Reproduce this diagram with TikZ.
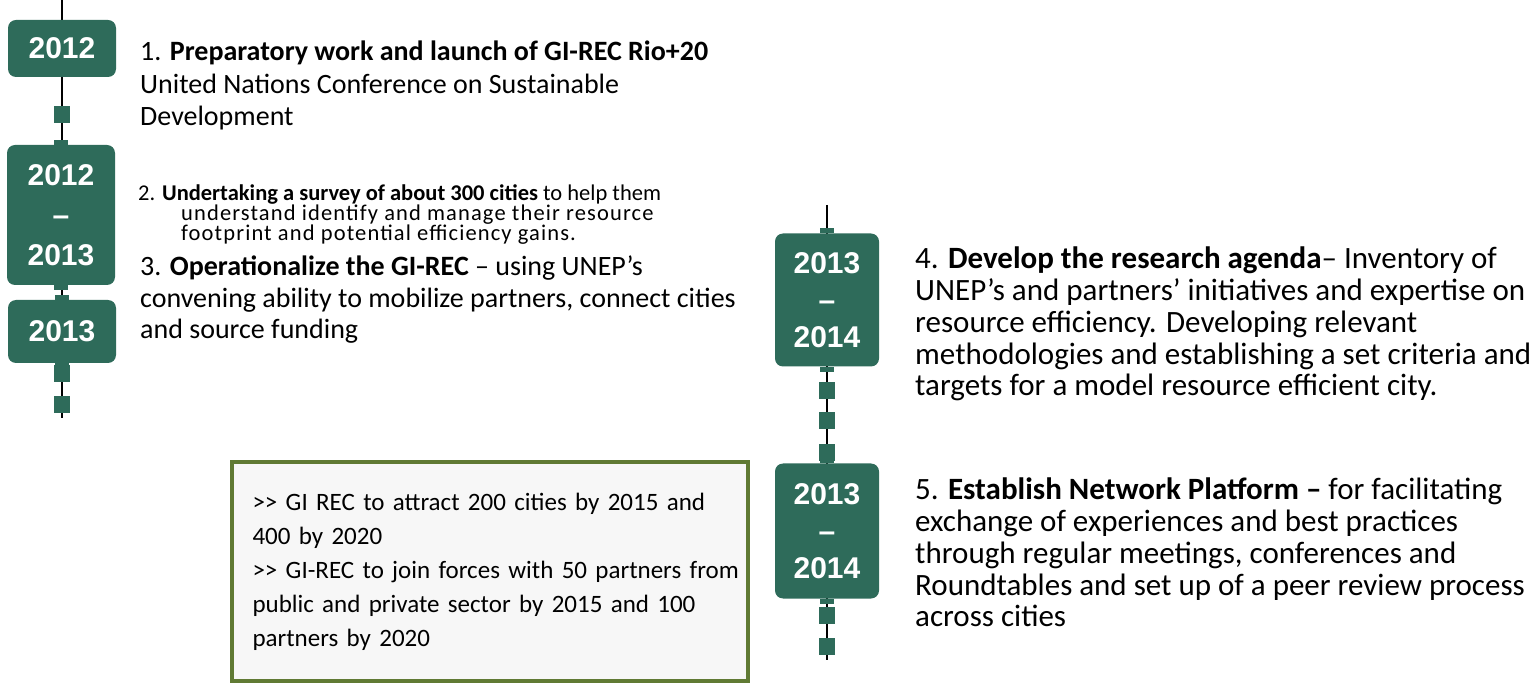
\documentclass[tikz,border=0pt]{standalone}
\usepackage{fontspec}
\setmainfont{Carlito}
\newfontfamily\yearfamily{Liberation Sans}
\usetikzlibrary{positioning}
\definecolor{timeteal}{RGB}{46,107,90}
\definecolor{olivebox}{RGB}{96,122,52}
\newcommand{\itemsize}{\fontsize{28}{32.5}\selectfont}
\newcommand{\rightitemsize}{\fontsize{31}{31.7}\selectfont}
\newcommand{\smallitemsize}{\fontsize{22.5}{16.5}\selectfont}
\newcommand{\goalline}[1]{\makebox[475pt][s]{#1}}
\newcommand{\spreadline}[1]{\hspace*{43pt}{\addfontfeature{LetterSpace=5}#1}}
\tikzset{
    every picture/.style = {
        x = 1pt,
        y = -1pt
    },
    yearbox/.style = {
        fill = timeteal,
        rounded corners = 8pt,
        minimum width = 108pt,
        inner sep = 0pt,
        text = white,
        align = center,
        font = \yearfamily\bfseries\fontsize{30}{40}\selectfont
    },
    yearboxright/.style = {
        yearbox,
        minimum width = 104pt,
        font = \yearfamily\bfseries\fontsize{30}{37}\selectfont
    },
    tick/.style = {
        fill = timeteal,
        minimum width = 16pt,
        minimum height = 17pt,
        inner sep = 0pt
    },
    stub/.style = {
        fill = timeteal,
        minimum width = 14pt,
        minimum height = 5pt,
        inner sep = 0pt
    },
    item/.style = {
        anchor = north west,
        inner sep = 0pt,
        align = left,
        font = \itemsize
    },
    goalbox/.style = {
        draw = olivebox,
        line width = 3.5pt,
        fill = black!3,
        minimum width = 516pt,
        minimum height = 219pt,
        text width = 475pt,
        inner sep = 0pt,
        align = left,
        font = \fontsize{25}{34}\selectfont
    }
}

\begin{document}
\begin{tikzpicture}
    \useasboundingbox (0,0) rectangle (1535,684);

    % the two time lines
    \coordinate (ltop) at (62,0);
    \coordinate (lbot) at (62,418);
    \coordinate (rtop) at (827,205);
    \coordinate (rbot) at (827,660);
    \draw[line width = 2pt] (ltop) -- (lbot);
    \draw[line width = 2pt] (rtop) -- (rbot);

    % year boxes
    \node[yearbox, minimum height = 57pt] (yA) at (62,48.5) {2012};
    \node[yearbox, minimum height = 140pt] (yB) at (61,215) {2012\\–\\2013};
    \node[yearbox, minimum height = 63pt] (yC) at (62,331.5) {2013};
    \node[yearboxright, minimum height = 133pt] (yD) at (827,300) {2013\\–\\2014};
    \node[yearboxright, minimum height = 135pt] (yE) at (827,531) {2013\\–\\2014};

    \foreach \b in {yB, yC, yD, yE} {
        \node[stub, anchor = south] (\b-top) at (\b.north) {};
        \node[stub, anchor = north] (\b-bot) at (\b.south) {};
    }

    % small squares on the lines
    \foreach \y in {115, 374, 405}
        \node[tick] (lt\y) at (62,\y) {};
    \foreach \y in {391, 421, 453, 615, 646}
        \node[tick] (rt\y) at (827,\y) {};

    % steps
    \node[item] (step1) at (140,41) {1. \textbf{Preparatory work and launch of GI-REC Rio+20}\\
        United Nations Conference on Sustainable\\
        Development};
    \node[item, font = \smallitemsize] (step2) at (138,184) {2. \textbf{Undertaking a survey of about 300 cities} to help them\\
        \spreadline{understand identify and manage their resource}\\
        \spreadline{footprint and potential efficiency gains.}};
    \node[item, font = \fontsize{28}{31.5}\selectfont] (step3) at (140,256) {3. \textbf{Operationalize the GI-REC} – using UNEP’s\\
        convening ability to mobilize partners, connect cities\\
        and source funding};
    \node[item, font = \rightitemsize] (step4) at (915,247) {4. \textbf{Develop the research agenda}– Inventory of\\
        UNEP’s and partners’ initiatives and expertise on\\
        resource efficiency. Developing relevant\\
        methodologies and establishing a set criteria and\\
        targets for a model resource efficient city.};
    \node[item, font = \rightitemsize] (step5) at (915,478) {5. \textbf{Establish Network Platform –} for facilitating\\
        exchange of experiences and best practices\\
        through regular meetings, conferences and\\
        Roundtables and set up of a peer review process\\
        across cities};

    % targets
    \node[goalbox] (goals) at (490,571.5) {%
        \goalline{>\kern0pt> GI REC to attract 200 cities by 2015 and}\\
        400 by 2020\\
        \goalline{>\kern0pt> GI-REC to join forces with 50 partners from}\\
        \goalline{public and private sector by 2015 and 100}\\
        partners by 2020};
\end{tikzpicture}
\end{document}
